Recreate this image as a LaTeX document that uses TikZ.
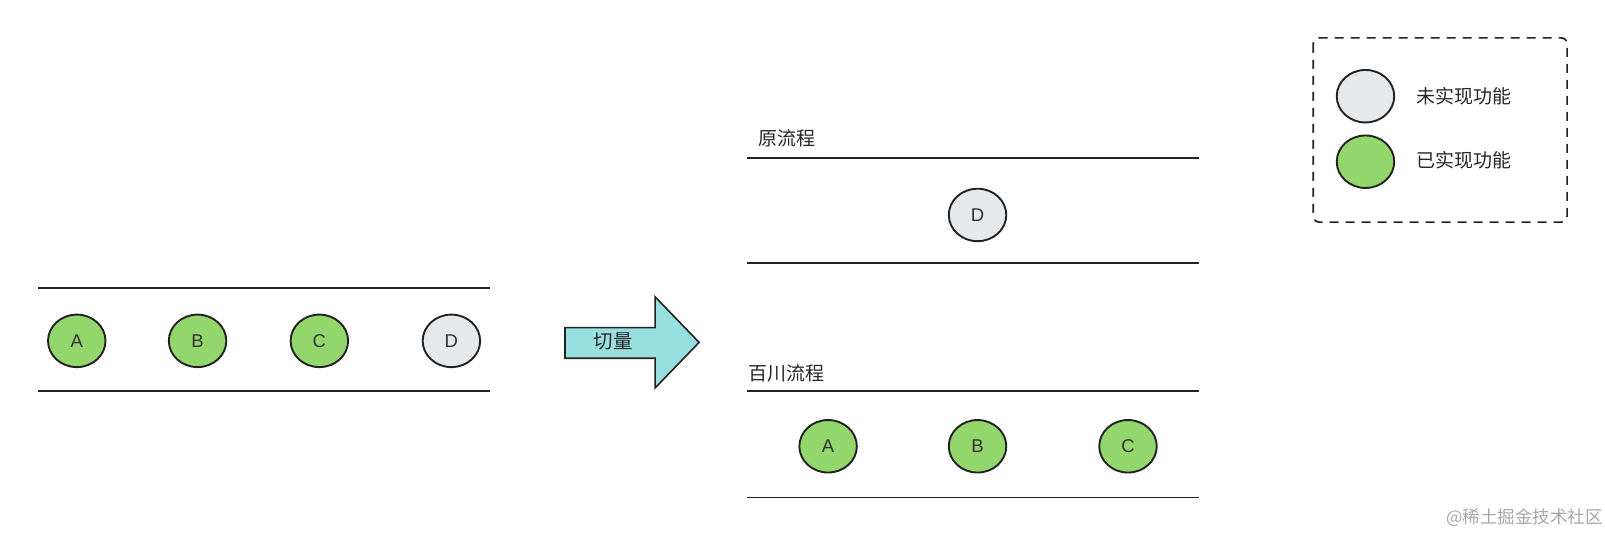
\documentclass[tikz,border=0pt]{standalone}
\usepackage{fontspec}
\setmainfont{Liberation Sans}
\newfontfamily\cjk{Noto Sans CJK SC}
\usetikzlibrary{shapes.geometric}
\definecolor{donegreen}{HTML}{92D66C}
\definecolor{todogray}{HTML}{E6E9EC}
\definecolor{edge}{HTML}{222222}
\definecolor{arrowfill}{HTML}{98DFE0}
\tikzset{
  feat/.style={ellipse, draw=edge, line width=1.9pt, minimum width=57.5pt, minimum height=52.5pt, inner sep=0pt, font=\fontsize{18.5}{18.5}\selectfont, text=black!80},
  done/.style={feat, fill=donegreen},
  todo/.style={feat, fill=todogray},
  lane/.style={draw=edge, line width=1.9pt},
  lbl/.style={font=\cjk\fontsize{19}{19}\selectfont, text=black!85, inner sep=0pt},
}
\begin{document}
\begin{tikzpicture}[x=1.0236pt,y=-1.0236pt]
\useasboundingbox (0,0) rectangle (1568,521.7);
% left lane
\draw[lane] (37,281) -- (479,281);
\draw[lane] (37,382) -- (479,382);
\node[done] (lA) at (75,333) {A};
\node[done] (lB) at (193,333) {B};
\node[done] (lC) at (312,333) {C};
\node[todo] (lD) at (441,333) {D};
% arrow
\draw[draw=edge, line width=1.6pt, fill=arrowfill, line join=miter]
  (552,320) -- (640,320) -- (640,290) -- (683,334.5) -- (640,379) -- (640,350) -- (552,350) -- cycle;
\node[lbl, font=\cjk\fontsize{19.5}{19.5}\selectfont] (cut) at (599,334) {切量};
% right top lane
\node[lbl, anchor=west] (orig) at (741,135) {原流程};
\draw[lane] (730,154) -- (1171,154);
\draw[lane] (730,257) -- (1171,257);
\node[todo] (rD) at (955,210) {D};
% right bottom lane
\node[lbl, anchor=west] (bc) at (731,365) {百川流程};
\draw[lane] (730,382) -- (1171,382);
\draw[lane] (730,486) -- (1171,486);
\node[done] (rA) at (809,436) {A};
\node[done] (rB) at (955,436) {B};
\node[done] (rC) at (1102,436) {C};
% legend
\draw[draw=edge, line width=1.7pt, dash pattern=on 9pt off 7pt, rounded corners=6pt] (1283,37) rectangle (1531,217);
\node[todo] (lg1) at (1334,94) {};
\node[done] (lg2) at (1334,158) {};
\node[lbl, anchor=west] (t1) at (1384,94) {未实现功能};
\node[lbl, anchor=west] (t2) at (1384,157) {已实现功能};
% watermark
\node[font=\cjk\fontsize{17.5}{17.5}\selectfont, text=black!35, anchor=east, inner sep=0pt] (wm) at (1566,506) {@稀土掘金技术社区};
\end{tikzpicture}
\end{document}
